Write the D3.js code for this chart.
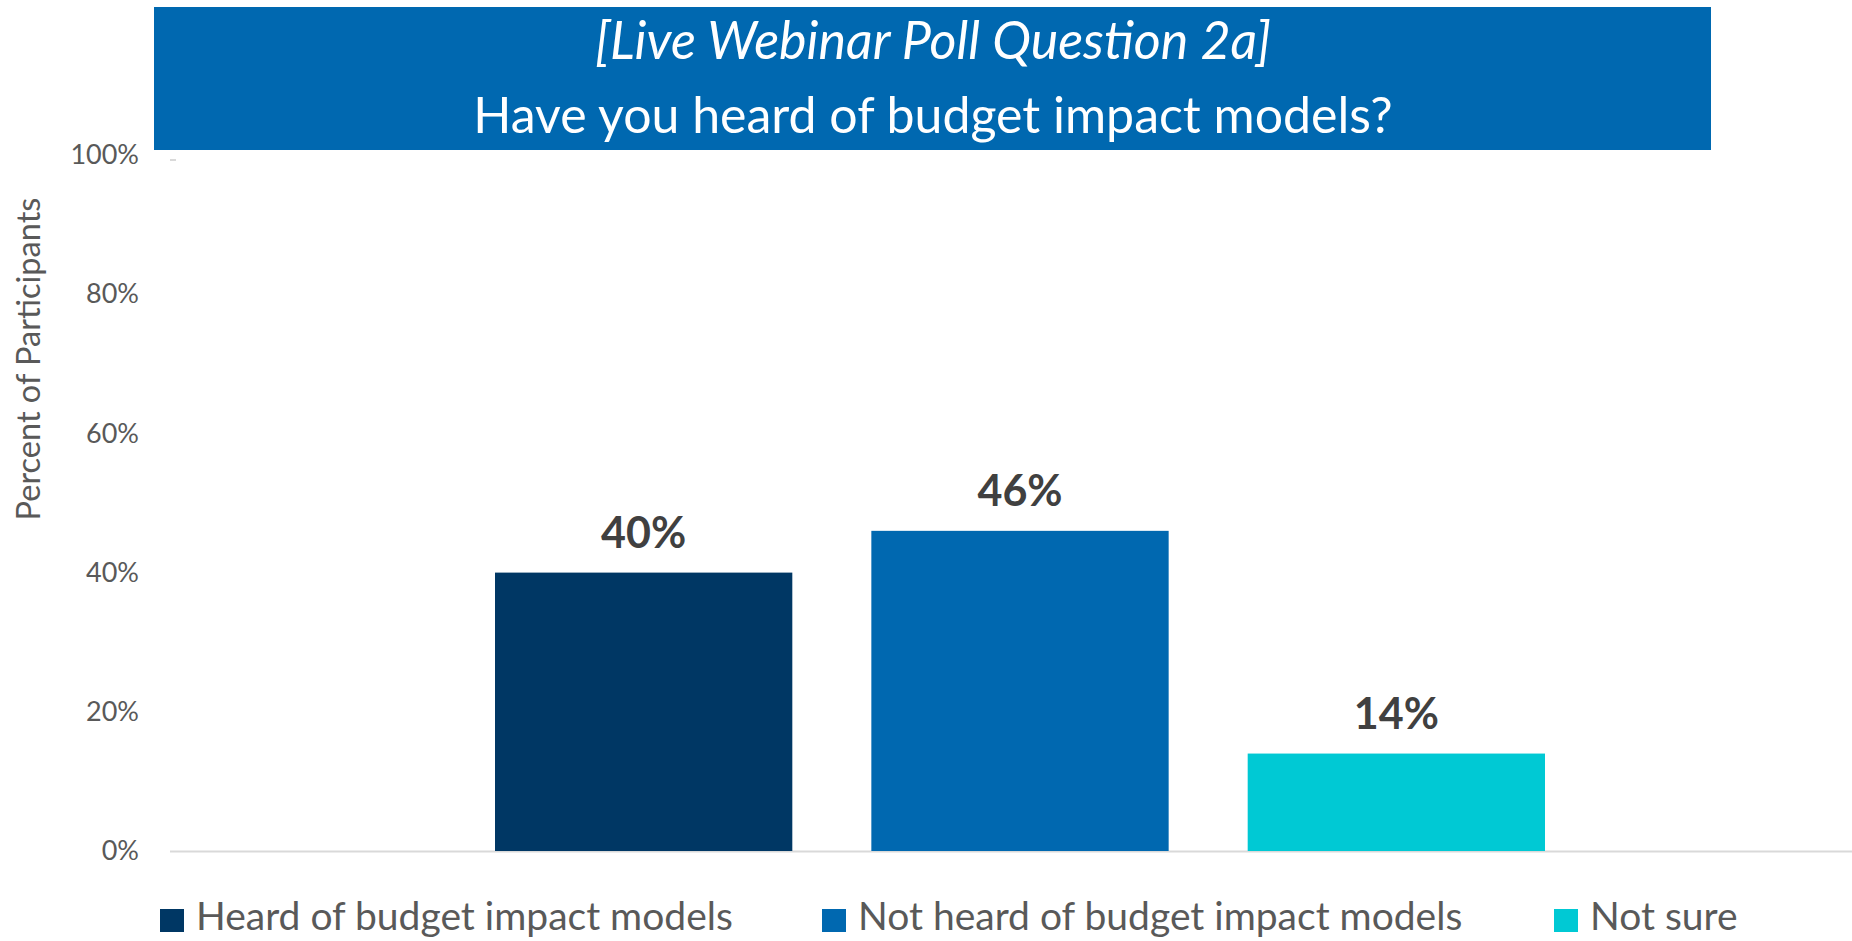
<!DOCTYPE html>
<html>
<head>
<meta charset="utf-8">
<script src="https://cdn.jsdelivr.net/npm/d3@7"></script>
<style>
    html, body { margin: 0; padding: 0; background: #ffffff; }
    svg { display: block; }
</style>
</head>
<body>
<div class="poll-chart"></div>
<script>
//Data
var titleLines = ["[Live Webinar Poll Question 2a]", "Have you heard of budget impact models?"];
var seriesNames = ["Heard of budget impact models", "Not heard of budget impact models", "Not sure"];
var seriesValues = [40, 46, 14];
var seriesColors = ["#003764", "#0068b0", "#00c9d4"];
var yTicks = [0, 20, 40, 60, 80, 100];
var yAxisTitle = "Percent of Participants";

var pollView = {
    width: 1852,
    height: 941,
    font: "Lato, 'Open Sans', sans-serif",
    init() {
        //Create svg element to hold graph
        this.svg = d3.select(".poll-chart")
            .append("svg")
            .attr("width", this.width)
            .attr("height", this.height);

        this.y = d3.scaleLinear().domain([0, 100]).range([851, 155]);
        this.x = d3.scaleBand()
            .domain(seriesNames)
            .range([495, 1545])
            .paddingInner(0.21)
            .paddingOuter(0);
    },
    drawTitle() {
        //Blue banner
        this.svg.append("rect")
            .attr("x", 154)
            .attr("y", 7)
            .attr("width", 1557)
            .attr("height", 143)
            .attr("fill", "#0068b0");

        this.svg.selectAll(".title-line")
            .data(titleLines)
            .enter()
            .append("text")
            .attr("class", "title-line")
            .attr("x", 933)
            .attr("y", (d, i) => i == 0 ? 59 : 133)
            .attr("text-anchor", "middle")
            .attr("fill", "#ffffff")
            .style("font-family", this.font)
            .style("font-size", (d, i) => i == 0 ? "52px" : "50px")
            .style("font-style", (d, i) => i == 0 ? "italic" : "normal")
            .text(d => d);
    },
    drawAxes() {
        //Y tick labels, no axis line
        const yAxis = d3.axisLeft(this.y)
            .tickValues(yTicks)
            .tickSize(0)
            .tickPadding(0)
            .tickFormat(d => d + "%");

        const g = this.svg.append("g")
            .attr("transform", "translate(139,0)")
            .call(yAxis);
        g.select(".domain").remove();
        g.selectAll("text")
            .attr("fill", "#595959")
            .style("font-family", this.font)
            .style("font-size", "27px");

        //Baseline
        this.svg.append("line")
            .attr("x1", 170)
            .attr("x2", this.width)
            .attr("y1", this.y(0) + 0.5)
            .attr("y2", this.y(0) + 0.5)
            .style("stroke", "#d9d9d9")
            .style("stroke-width", 2);

        //Tiny leftover gridline stub near the top
        this.svg.append("line")
            .attr("x1", 170)
            .attr("x2", 176)
            .attr("y1", this.y(100) + 5)
            .attr("y2", this.y(100) + 5)
            .style("stroke", "#d9d9d9")
            .style("stroke-width", 2);

        //Axis title
        this.svg.append("text")
            .attr("transform", "translate(40,359) rotate(-90)")
            .attr("text-anchor", "middle")
            .attr("fill", "#595959")
            .style("font-family", this.font)
            .style("font-size", "32.5px")
            .text(yAxisTitle);
    },
    drawBars() {
        const data = seriesNames.map((name, i) => ({ name: name, value: seriesValues[i], color: seriesColors[i] }));

        this.svg.selectAll(".bar")
            .data(data)
            .enter()
            .append("rect")
            .attr("class", "bar")
            .attr("x", d => this.x(d.name))
            .attr("y", d => this.y(d.value))
            .attr("width", this.x.bandwidth())
            .attr("height", d => this.y(0) - this.y(d.value))
            .attr("fill", d => d.color);

        //Value labels
        this.svg.selectAll(".bar-label")
            .data(data)
            .enter()
            .append("text")
            .attr("class", "bar-label")
            .attr("x", d => this.x(d.name) + this.x.bandwidth() / 2)
            .attr("y", d => this.y(d.value) - 25)
            .attr("text-anchor", "middle")
            .attr("fill", "#404040")
            .style("font-family", this.font)
            .style("font-weight", "bold")
            .style("font-size", "43px")
            .text(d => d.value + "%");
    },
    drawLegend() {
        const legendX = [160, 822, 1554];
        const items = this.svg.selectAll(".legend-item")
            .data(seriesNames)
            .enter()
            .append("g")
            .attr("class", "legend-item")
            .attr("transform", (d, i) => `translate(${legendX[i]},909)`);

        items.append("rect")
            .attr("width", 24)
            .attr("height", 23)
            .attr("fill", (d, i) => seriesColors[i]);

        //Keep descenders inside the page
        items.append("text")
            .attr("x", 36)
            .attr("y", 21)
            .attr("fill", "#595959")
            .style("font-family", this.font)
            .style("font-size", "39px")
            .text(d => d);
    }
};

pollView.init();
pollView.drawTitle();
pollView.drawAxes();
pollView.drawBars();
pollView.drawLegend();
</script>
</body>
</html>
